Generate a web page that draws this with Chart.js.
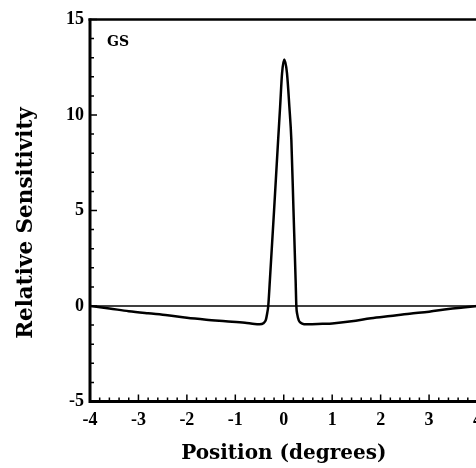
<!DOCTYPE html>
<html>
<head>
<meta charset="utf-8">
<style>
html,body{margin:0;padding:0;overflow:hidden;background:#fff;width:476px;height:468px}
#wrap{position:absolute;left:0;top:0;width:490px;height:468px}
</style>
<script src="https://cdn.jsdelivr.net/npm/chart.js"></script>
</head>
<body>
<div id="wrap"><canvas id="c" width="490" height="468"></canvas></div>
<script>
// Data
const positions = [-4, -3.6, -3.2, -2.8, -2.4, -2.0, -1.6, -1.2, -0.8, -0.6, -0.5, -0.42, -0.37, -0.34, -0.32, -0.286, -0.2, -0.116, -0.075, -0.035, 0.01, 0.067, 0.116, 0.157, 0.2, 0.245, 0.26, 0.28, 0.31, 0.35, 0.42, 0.5, 0.8, 1.0, 1.4, 1.8, 2.2, 2.6, 3.0, 3.4, 3.7, 4.0];
const sensitivity = [0, -0.13, -0.27, -0.38, -0.48, -0.62, -0.72, -0.80, -0.88, -0.94, -0.95, -0.90, -0.73, -0.35, 0.0, 1.36, 5.0, 8.69, 10.43, 12.18, 12.9, 12.18, 10.43, 8.69, 5.1, 1.36, 0.0, -0.45, -0.75, -0.88, -0.95, -0.96, -0.93, -0.91, -0.80, -0.64, -0.52, -0.40, -0.30, -0.16, -0.08, 0];
const baselineX = [-4, 4];
const baselineY = [0, 0];
const xTicks = [-4, -3, -2, -1, 0, 1, 2, 3, 4];
const yTicks = [-5, 0, 5, 10, 15];
const panelLabel = 'GS';
const xTitle = 'Position (degrees)';
const yTitle = 'Relative Sensitivity';

const SERIF = "'Liberation Serif', 'DejaVu Serif', serif";
const WIDE_SERIF = "'DejaVu Serif', 'Liberation Serif', serif";

const framePlugin = {
  id: 'frame',
  afterDraw(chart) {
    const ctx = chart.ctx;
    const xs = chart.scales.x, ys = chart.scales.y;
    const L = xs.left, R = chart.width, T = ys.top, B = ys.bottom;
    ctx.save();
    ctx.strokeStyle = '#000';
    ctx.lineCap = 'butt';
    // ticks
    ctx.lineWidth = 1.5;
    ctx.beginPath();
    for (let i = 0; i <= 40; i++) {
      const v = -4 + i * 0.2;
      const px = xs.getPixelForValue(v);
      const len = (i % 5 === 0) ? 7 : 4;
      ctx.moveTo(px, B);
      ctx.lineTo(px, B - len);
    }
    for (let v = -5; v <= 15; v++) {
      const py = ys.getPixelForValue(v);
      const len = (v % 5 === 0) ? 7 : 4;
      ctx.moveTo(L, py);
      ctx.lineTo(L + len, py);
    }
    ctx.stroke();
    // axis lines
    ctx.lineWidth = 3;
    ctx.beginPath();
    ctx.moveTo(L, T - 1);
    ctx.lineTo(L, B + 1.5);
    ctx.moveTo(L - 1.5, B);
    ctx.lineTo(R, B);
    ctx.stroke();
    ctx.lineWidth = 2.5;
    ctx.beginPath();
    ctx.moveTo(L - 1.5, T);
    ctx.lineTo(R, T);
    ctx.stroke();
    ctx.fillStyle = '#000';
    // panel label
    ctx.font = "bold 14px " + WIDE_SERIF;
    ctx.textAlign = 'left';
    ctx.textBaseline = 'alphabetic';
    ctx.fillText(panelLabel, 107, 46);
    // y-axis title
    ctx.translate(26, 223);
    ctx.rotate(-Math.PI / 2);
    ctx.font = "bold 21.5px " + WIDE_SERIF;
    ctx.textAlign = 'center';
    ctx.textBaseline = 'middle';
    ctx.fillText(yTitle, 0, 0);
    ctx.restore();
  }
};

new Chart(document.getElementById('c'), {
  type: 'scatter',
  data: {
    datasets: [
      {
        data: baselineX.map((x, i) => ({x, y: baselineY[i]})),
        showLine: true,
        borderColor: '#000',
        borderWidth: 1.5,
        pointRadius: 0,
        fill: false
      },
      {
        data: positions.map((x, i) => ({x, y: sensitivity[i]})),
        showLine: true,
        borderColor: '#000',
        borderWidth: 2.5,
        pointRadius: 0,
        fill: false,
        cubicInterpolationMode: 'monotone'
      }
    ]
  },
  options: {
    responsive: false,
    animation: false,
    devicePixelRatio: 1,
    layout: { padding: { left: 0, right: 6, top: 19.5, bottom: 0 } },
    plugins: { legend: { display: false }, tooltip: { enabled: false } },
    scales: {
      x: {
        type: 'linear',
        min: -4, max: 4,
        afterBuildTicks: s => { s.ticks = xTicks.map(v => ({ value: v })); },
        afterFit: s => { s.height = 66.5; },
        grid: { display: false, drawTicks: false },
        border: { display: false },
        ticks: {
          color: '#000',
          padding: 8,
          maxRotation: 0,
          autoSkip: false,
          font: { family: SERIF, weight: 'bold', size: 18 },
          callback: v => String(v)
        },
        title: {
          display: true,
          text: xTitle,
          color: '#000',
          font: { family: WIDE_SERIF, weight: 'bold', size: 20 },
          padding: { top: 0, bottom: 2 }
        }
      },
      y: {
        type: 'linear',
        min: -5, max: 15,
        afterBuildTicks: s => { s.ticks = yTicks.map(v => ({ value: v })); },
        afterFit: s => { s.width = 90; },
        grid: { display: false, drawTicks: false },
        border: { display: false },
        ticks: {
          color: '#000',
          padding: 6,
          autoSkip: false,
          font: { family: SERIF, weight: 'bold', size: 18 },
          callback: v => String(v)
        },
        title: { display: false, text: yTitle }
      }
    }
  },
  plugins: [framePlugin]
});
</script>
</body>
</html>
